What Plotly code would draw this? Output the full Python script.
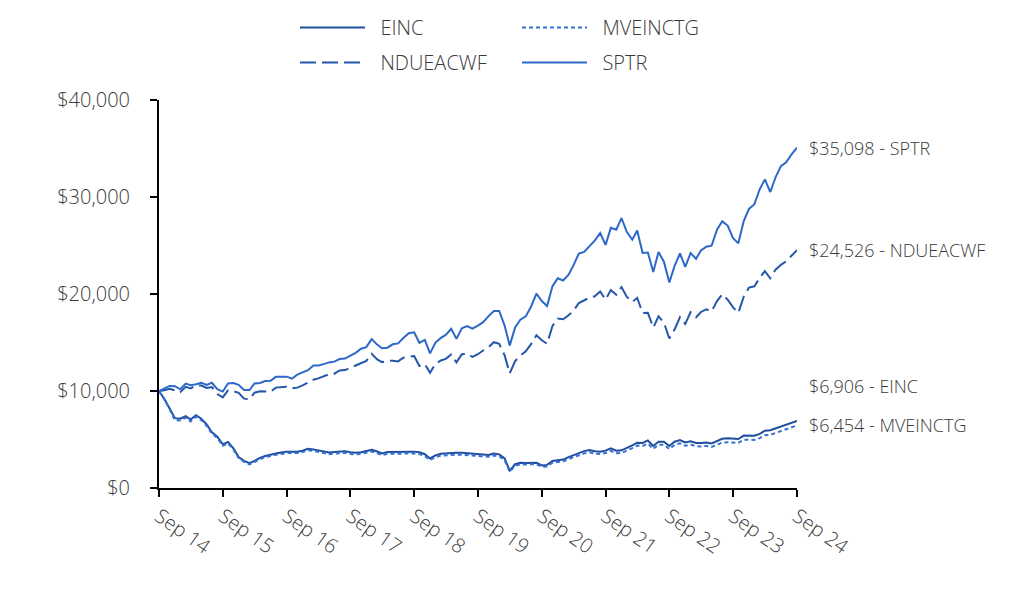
import plotly.graph_objects as go
import pandas as pd

dates = pd.date_range("2014-09-01", periods=121, freq="MS")

einc = [10000, 9200, 8200, 7200, 7150, 7400, 7050, 7500, 7150, 6550, 5750, 5300,
        4500, 4750, 4100, 3200, 2800, 2550, 2800, 3100, 3300, 3450, 3550, 3650,
        3750, 3750, 3750, 3850, 4050, 3980, 3900, 3800, 3650, 3700, 3720, 3800,
        3680, 3640, 3680, 3800, 3950, 3760, 3560, 3700, 3710, 3730, 3800, 3780,
        3750, 3680, 3480, 3050, 3370, 3530, 3580, 3600, 3630, 3630, 3590, 3550,
        3540, 3510, 3410, 3560, 3470, 3050, 1800, 2450, 2600, 2590, 2580, 2610,
        2320, 2380, 2780, 2850, 2930, 3180, 3400, 3640, 3800, 3920, 3780, 3745,
        3850, 4090, 3850, 3880, 4100, 4400, 4670, 4640, 4900, 4330, 4775, 4775,
        4330, 4775, 4950, 4700, 4820, 4640, 4640, 4700, 4590, 4840, 5080, 5120,
        5100, 5050, 5400, 5400, 5390, 5580, 5900, 5950, 6150, 6320, 6500, 6720,
        6906]

mveinctg = [10000, 9150, 8100, 7000, 6950, 7250, 6850, 7350, 7000, 6400, 5600, 5150,
            4350, 4600, 3950, 3080, 2680, 2430, 2680, 2980, 3180, 3320, 3420, 3510,
            3600, 3600, 3600, 3700, 3890, 3820, 3740, 3640, 3490, 3540, 3560, 3640,
            3510, 3470, 3510, 3630, 3770, 3580, 3380, 3520, 3530, 3550, 3610, 3590,
            3560, 3490, 3300, 2880, 3190, 3340, 3390, 3410, 3430, 3430, 3390, 3350,
            3340, 3310, 3210, 3350, 3260, 2860, 1680, 2300, 2440, 2430, 2420, 2450,
            2170, 2220, 2600, 2660, 2740, 2980, 3190, 3420, 3570, 3680, 3540, 3500,
            3600, 3830, 3590, 3610, 3820, 4110, 4370, 4340, 4580, 4030, 4460, 4450,
            4020, 4440, 4610, 4360, 4470, 4300, 4290, 4340, 4230, 4470, 4690, 4720,
            4700, 4650, 4980, 4980, 4960, 5140, 5440, 5480, 5670, 5830, 6000, 6220,
            6454]

ndueacwf = [10000, 10071, 10238, 10036, 9881, 10431, 10268, 10567, 10558, 10311, 10400, 9687,
            9337, 10069, 9987, 9802, 9211, 9148, 9825, 9971, 9985, 9926, 10348, 10383,
            10446, 10269, 10348, 10572, 10860, 11162, 11302, 11478, 11729, 11782, 12111, 12157,
            12392, 12650, 12897, 13104, 13843, 13263, 12979, 13102, 13119, 13048, 13437, 13543,
            13603, 12584, 12768, 11869, 12807, 13149, 13315, 13765, 12949, 13797, 13837, 13509,
            13793, 14171, 14517, 15028, 14866, 13665, 11820, 13086, 13655, 14092, 14833, 15741,
            15236, 14866, 16699, 17474, 17395, 17799, 18274, 19073, 19368, 19626, 19761, 20255,
            19419, 20405, 19913, 20710, 19697, 19189, 19605, 18037, 18060, 16538, 17692, 17041,
            15410, 16339, 17607, 16913, 18126, 17606, 18148, 18409, 18210, 19268, 19975, 19418,
            18614, 18056, 19722, 20669, 20791, 21683, 22364, 21626, 22506, 23008, 23378, 23967,
            24526]

sptr = [10000, 10244, 10520, 10494, 10179, 10764, 10594, 10696, 10834, 10624, 10847, 10193,
        9941, 10780, 10812, 10641, 10113, 10100, 10785, 10827, 11022, 11051, 11459, 11475,
        11477, 11268, 11685, 11916, 12142, 12624, 12639, 12769, 12949, 13029, 13298, 13339,
        13614, 13931, 14359, 14518, 15350, 14784, 14408, 14463, 14812, 14904, 15458, 15962,
        16053, 14955, 15260, 13882, 14994, 15475, 15775, 16414, 15372, 16456, 16693, 16429,
        16736, 17099, 17720, 18255, 18248, 16746, 14678, 16560, 17348, 17693, 18691, 20035,
        19274, 18761, 20816, 21615, 21397, 21988, 22951, 24177, 24346, 24913, 25506, 26281,
        25059, 26816, 26631, 27824, 26386, 25597, 26547, 24232, 24276, 22273, 24327, 23334,
        21185, 22901, 24181, 22788, 24219, 23628, 24495, 24877, 24984, 26636, 27491, 27054,
        25764, 25223, 27526, 28776, 29259, 30822, 31814, 30516, 32030, 33180, 33585, 34401,
        35098]

tick_dates = pd.date_range("2014-09-01", periods=11, freq="12MS")
tick_labels = ["Sep 14", "Sep 15", "Sep 16", "Sep 17", "Sep 18", "Sep 19",
               "Sep 20", "Sep 21", "Sep 22", "Sep 23", "Sep 24"]
y_ticks = [0, 10000, 20000, 30000, 40000]
y_tick_labels = ["$0", "$10,000", "$20,000", "$30,000", "$40,000"]

FONT = "Open Sans"
TXT = "#3a3a3a"

series = [
    ("EINC", einc, "#1F4E9E", "solid", "legend"),
    ("NDUEACWF", ndueacwf, "#2456AA", "16px,6px", "legend"),
    ("MVEINCTG", mveinctg, "#3471D6", "4px,3px", "legend2"),
    ("SPTR", sptr, "#2D68C8", "solid", "legend2"),
]

fig = go.Figure()
for name, vals, col, dash, lg in series:
    fig.add_trace(go.Scatter(x=dates, y=vals, mode="lines", name="\u00a0\u00a0" + name,
                             line=dict(color=col, width=2, dash=dash),
                             legend=lg, legendgroup=name))

for name, vals, col, dash, lg in series:
    shift = 35 if name == "EINC" else 0
    fig.add_annotation(x=dates[-1], y=vals[-1], xref="x", yref="y",
                       text=f"${vals[-1]:,} - {name}", showarrow=False,
                       xanchor="left", yanchor="middle", xshift=10, yshift=shift,
                       font=dict(family=FONT, size=18, color=TXT, weight=300))

# page body offsets the figure by ~7px; margins compensate
L, R, T, B = 151, 243, 92, 132
W, H = 1032, 612

legend_common = dict(orientation="v", yanchor="top", xanchor="left",
                     xref="container", yref="container",
                     font=dict(family=FONT, size=20, color=TXT, weight=300),
                     bgcolor="rgba(0,0,0,0)", itemwidth=65, tracegroupgap=6,
                     itemclick=False)

tickfont = dict(family=FONT, size=20, color=TXT, weight=300)

fig.update_layout(
    width=W, height=H,
    margin=dict(l=L, r=R, t=T, b=B, autoexpand=False),
    paper_bgcolor="white", plot_bgcolor="white",
    font=dict(family=FONT, color=TXT),
    legend=dict(x=287 / W, y=1.0, **legend_common),
    legend2=dict(x=509 / W, y=1.0, **legend_common),
    xaxis=dict(range=[dates[0], dates[-1]], tickvals=list(tick_dates), ticktext=tick_labels,
               tickangle=35, ticks="outside", ticklen=7, tickwidth=2, tickcolor="black",
               showline=True, linecolor="black", linewidth=2, showgrid=False, zeroline=False,
               tickfont=tickfont),
    yaxis=dict(range=[0, 40000], tickvals=y_ticks, ticktext=y_tick_labels,
               ticks="outside", ticklen=7, tickwidth=2, tickcolor="black",
               showline=True, linecolor="black", linewidth=2, showgrid=False, zeroline=False,
               ticklabelstandoff=16, tickfont=tickfont),
)

fig.write_html("out.html")
